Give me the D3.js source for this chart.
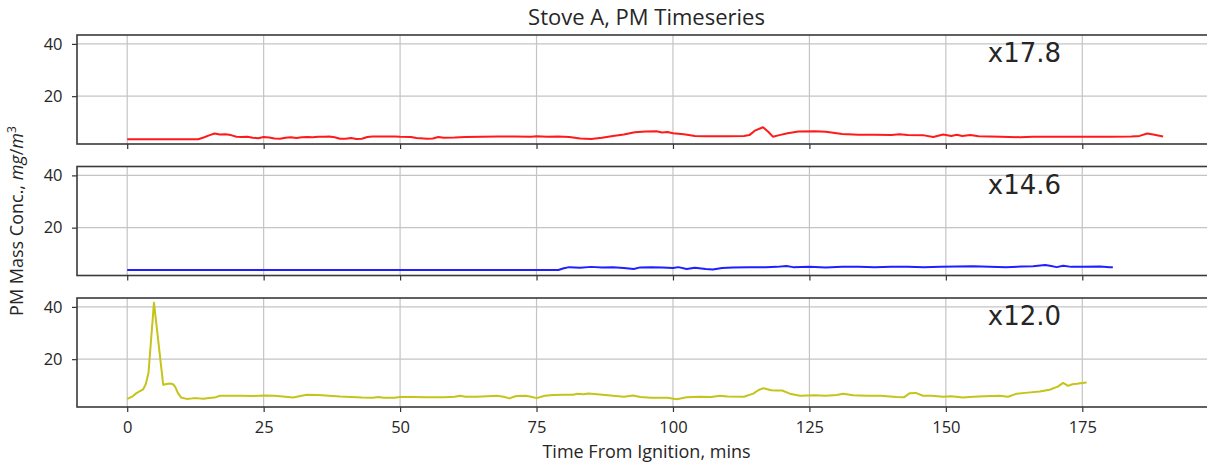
<!DOCTYPE html>
<html>
<head>
<meta charset="utf-8">
<script src="https://cdn.jsdelivr.net/npm/d3@7"></script>
<style>
  html, body { margin: 0; padding: 0; background: #fff; }
  svg { display: block; }
  text { font-family: "Open Sans", sans-serif; fill: #262626; }
</style>
</head>
<body>
<svg id="chart" width="1207" height="462"></svg>
<script>
// PM mass concentration time series, one panel per instrument
const xTicks = [0, 25, 50, 75, 100, 125, 150, 175];
const yTicks = [20, 40];
const scaleLabels = ["x17.8", "x14.6", "x12.0"];
const seriesColors = ["#ff1a1a", "#1f1fff", "#c4c41a"];

const redTime  = [0, 5, 10, 13, 14, 15, 16, 17, 18, 19, 20, 21, 22, 23, 24, 25, 26, 27, 28, 29, 30, 31, 32, 33, 34, 35, 36, 37, 38, 39, 40, 41, 42, 43, 44, 45, 47, 49, 50, 52, 53, 55, 56, 57, 58, 60, 62, 65, 68, 71, 74, 75, 77, 79, 81, 83, 85, 87, 89, 91, 93, 95, 97, 98, 99, 100, 102, 104, 106, 110, 113, 114, 115, 116.5, 117.5, 118.3, 119.5, 121, 123, 126, 128, 131, 134, 137, 140, 141.5, 143, 146, 147.7, 149.5, 151, 152, 153, 154.5, 156, 158, 160, 163.6, 166, 170, 175, 180, 184, 185.5, 186.9, 188, 189.8];
const redValue = [3.5, 3.5, 3.5, 3.5, 4.2, 5.0, 5.7, 5.3, 5.4, 5.1, 4.5, 4.4, 4.5, 4.1, 3.9, 4.4, 4.2, 3.8, 3.7, 4.1, 4.3, 4.0, 4.3, 4.4, 4.3, 4.5, 4.5, 4.6, 4.3, 3.7, 3.7, 4.0, 3.6, 3.7, 4.4, 4.6, 4.6, 4.6, 4.5, 4.4, 4.0, 3.7, 3.8, 4.4, 4.1, 4.2, 4.4, 4.5, 4.6, 4.6, 4.5, 4.7, 4.5, 4.6, 4.4, 3.8, 3.6, 4.1, 4.8, 5.3, 6.2, 6.5, 6.6, 6.1, 6.3, 5.8, 5.4, 4.8, 4.7, 4.7, 4.8, 5.1, 6.8, 8.1, 6.3, 4.5, 5.1, 5.8, 6.5, 6.6, 6.4, 5.5, 5.2, 5.2, 5.1, 5.4, 5.1, 5.0, 4.4, 5.3, 4.8, 5.2, 4.8, 5.1, 4.7, 4.6, 4.5, 4.3, 4.5, 4.5, 4.5, 4.5, 4.6, 4.8, 5.7, 5.3, 4.6];

const blueTime  = [0, 20, 40, 60, 79, 80, 81, 83, 85, 87, 89, 91, 92.8, 94, 96, 98, 100, 101, 102.5, 104, 106, 107.3, 109, 111, 114, 117, 119, 120.8, 122, 125, 128, 131, 134, 137, 140, 143, 146, 149, 152, 155, 158, 161, 164, 166, 168.2, 169.3, 170.3, 171.5, 173, 175, 178.3, 180, 180.6];
const blueValue = [3.8, 3.8, 3.8, 3.8, 3.8, 4.5, 4.9, 4.7, 5.0, 4.8, 4.9, 4.6, 4.2, 4.8, 4.9, 4.8, 4.6, 4.9, 4.2, 4.7, 4.2, 4.0, 4.6, 4.8, 4.9, 4.9, 5.0, 5.3, 4.9, 5.0, 4.8, 5.0, 5.0, 4.9, 5.0, 5.0, 4.9, 5.0, 5.1, 5.2, 5.0, 4.9, 5.1, 5.2, 5.7, 5.3, 4.9, 5.4, 5.0, 5.0, 5.1, 4.9, 4.9];

const yellowTime  = [0, 1, 1.7, 2.9, 3.4, 3.9, 4.9, 6.6, 7.2, 7.8, 8.4, 8.8, 9.3, 9.9, 10.9, 12, 13, 14, 15, 16, 17, 19, 21, 23, 25, 27, 29, 30.4, 31.5, 32.9, 35, 37, 39, 41, 43, 45, 46, 47, 49, 50, 52, 55, 58, 60, 61, 62, 64, 66, 67.7, 69, 70, 71.3, 73, 74, 75, 76.5, 78, 80, 81.7, 82.5, 83.6, 84.5, 86.6, 89, 91, 92.7, 94, 96, 99, 100.7, 102.5, 105, 107, 108.6, 110, 113, 114.7, 115.7, 116.6, 118, 119, 120, 121.4, 123.3, 126, 128, 130, 131.2, 133, 135.5, 138, 141, 142.3, 143.4, 144.5, 145.8, 147.5, 149.5, 151, 153.1, 155, 157, 159.9, 161.4, 163, 165, 167.2, 169, 170.5, 171.5, 172.4, 173.2, 174, 175, 175.8];
const yellowValue = [4.8, 5.8, 7.0, 8.4, 10.4, 14.7, 41.6, 10.2, 10.5, 10.7, 10.4, 9.4, 7.0, 5.3, 4.8, 5.0, 5.0, 4.9, 5.1, 5.3, 6.0, 6.0, 6.0, 5.9, 6.1, 6.0, 5.6, 5.3, 5.8, 6.4, 6.3, 6.0, 5.7, 5.5, 5.3, 5.2, 5.5, 5.2, 5.2, 5.5, 5.5, 5.4, 5.4, 5.6, 6.0, 5.6, 5.6, 5.8, 6.0, 5.6, 5.0, 5.9, 6.0, 5.6, 5.1, 6.0, 6.3, 6.4, 6.4, 6.8, 6.6, 6.9, 6.5, 6.0, 5.6, 6.1, 5.5, 5.2, 5.2, 4.7, 5.4, 5.6, 5.5, 6.0, 5.7, 5.6, 6.8, 8.2, 8.9, 8.1, 8.0, 8.0, 6.8, 6.0, 6.2, 6.0, 6.3, 6.8, 6.2, 6.0, 6.0, 5.5, 5.4, 7.0, 7.1, 6.0, 6.0, 5.6, 5.8, 5.3, 5.6, 5.8, 6.0, 5.6, 6.8, 7.2, 7.6, 8.3, 9.5, 10.9, 9.8, 10.4, 10.6, 10.9, 11.1];

const panels = [
  { time: redTime, value: redValue },
  { time: blueTime, value: blueValue },
  { time: yellowTime, value: yellowValue }
];

const svg = d3.select("#chart");
const left = 77, right = 1216;
const top0 = 35, panelH = 109, panelStep = 131.5;

const x = d3.scaleLinear().domain([-9.2, 199.5]).range([left, right]);

svg.append("text")
  .attr("x", (left + right) / 2).attr("y", 25)
  .attr("text-anchor", "middle")
  .style("font-size", "22px")
  .text("Stove A, PM Timeseries");

panels.forEach((p, i) => {
  const top = top0 + i * panelStep;
  const y = d3.scaleLinear().domain([1.7, 43.4]).range([top + panelH, top]);
  const g = svg.append("g");

  // grid
  g.selectAll("line.gx").data(xTicks).join("line")
    .attr("x1", d => x(d)).attr("x2", d => x(d))
    .attr("y1", top).attr("y2", top + panelH)
    .attr("stroke", "#c4c4c4").attr("stroke-width", 1.2);
  g.selectAll("line.gy").data(yTicks).join("line")
    .attr("x1", left).attr("x2", right)
    .attr("y1", d => y(d)).attr("y2", d => y(d))
    .attr("stroke", "#c4c4c4").attr("stroke-width", 1.2);

  // series
  const pts = p.time.map((t, k) => [t, p.value[k]]);
  g.append("path")
    .datum(pts)
    .attr("fill", "none")
    .attr("stroke", seriesColors[i])
    .attr("stroke-width", 2)
    .attr("stroke-linejoin", "round")
    .attr("d", d3.line().x(d => x(d[0])).y(d => y(d[1])));

  // axes
  const xAxis = d3.axisBottom(x).tickValues(xTicks).tickSize(5).tickPadding(9.5)
    .tickFormat(i === panels.length - 1 ? d3.format("d") : () => "");
  const gx = g.append("g").attr("transform", `translate(0,${top + panelH})`).call(xAxis);
  const yAxis = d3.axisLeft(y).tickValues(yTicks).tickSize(5).tickPadding(9.5);
  const gy = g.append("g").attr("transform", `translate(${left},0)`).call(yAxis);
  [gx, gy].forEach(a => {
    a.select(".domain").remove();
    a.selectAll(".tick line").attr("stroke", "#333").attr("stroke-width", 1.2);
    a.selectAll(".tick text").style("font-family", "Open Sans, sans-serif").style("font-size", "16.5px").attr("fill", "#262626");
  });

  // frame
  g.append("rect")
    .attr("x", left).attr("y", top)
    .attr("width", right - left).attr("height", panelH)
    .attr("fill", "none").attr("stroke", "#3a3a3a").attr("stroke-width", 1.6);

  // scale factor label
  g.append("text")
    .attr("x", x(157.7)).attr("y", y(33))
    .style("font-family", "DejaVu Sans, sans-serif")
    .style("font-size", "26px")
    .text(scaleLabels[i]);
});

svg.append("text")
  .attr("x", (left + right) / 2).attr("y", 458)
  .attr("text-anchor", "middle")
  .style("font-size", "18px")
  .text("Time From Ignition, mins");

const yl = svg.append("text")
  .attr("transform", `translate(23,${(top0 + top0 + 2 * panelStep + panelH) / 2}) rotate(-90)`)
  .attr("text-anchor", "middle")
  .style("font-size", "18px");
yl.append("tspan").text("PM Mass Conc., ");
yl.append("tspan").style("font-style", "italic").text("mg");
yl.append("tspan").text("/");
yl.append("tspan").style("font-style", "italic").text("m");
yl.append("tspan").attr("dy", -7).style("font-size", "12px").text("3");
</script>
</body>
</html>
